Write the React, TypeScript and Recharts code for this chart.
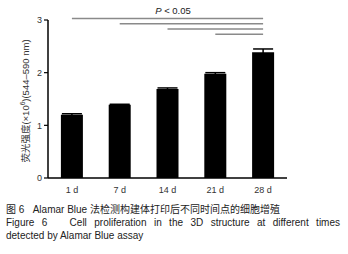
import { BarChart, Bar, XAxis, YAxis, ErrorBar, ReferenceLine, Label } from 'recharts';

const days = ['1 d', '7 d', '14 d', '21 d', '28 d'];
const intensity = [1.2, 1.39, 1.69, 1.98, 2.39];
const sem = [0.02, 0.01, 0.02, 0.02, 0.06];
const yTicks = [0, 1, 2, 3];

// significance brackets: each group compared against 28 d
const sigFrom = ['1 d', '7 d', '14 d', '21 d'];
const sigLevel = [3.03, 2.93, 2.83, 2.73];

const chartData = days.map((d, i) => ({ day: d, value: intensity[i], err: sem[i] }));

const font = '"Liberation Sans", Arial, "Noto Sans CJK SC", sans-serif';

const YLabel = ({ viewBox }: any) => {
  const cx = viewBox.x + 25;
  const cy = viewBox.y + viewBox.height / 2 + 2;
  return (
    <text
      x={cx}
      y={cy}
      transform={`rotate(-90, ${cx}, ${cy})`}
      textAnchor="middle"
      dominantBaseline="central"
      fontSize={9.5}
      fill="#333"
      fontFamily={font}
    >
      <tspan>荧光强度(×10</tspan>
      <tspan fontSize={6.5} dy={-3.5}>6</tspan>
      <tspan dy={3.5}>)(544–590 nm)</tspan>
    </text>
  );
};

export default function App() {
  return (
    <div style={{ position: 'absolute', left: 0, top: 0, width: 348, height: 254, background: '#fff', fontFamily: font }}>
      <div style={{ position: 'absolute', left: 133, top: 5, width: 80, textAlign: 'center', fontSize: 9.5, color: '#222' }}>
        <i>P</i> &lt; 0.05
      </div>
      <BarChart
        width={348}
        height={195}
        data={chartData}
        margin={{ top: 20, right: 61, left: 0, bottom: 0 }}
        barCategoryGap="27%"
      >
        <XAxis
          dataKey="day"
          height={17}
          tickLine={false}
          axisLine={{ stroke: '#000', strokeWidth: 1.5 }}
          tick={{ fill: '#333', fontSize: 9, fontFamily: font }}
          tickMargin={3}
        />
        <YAxis
          width={48}
          domain={[0, 3]}
          ticks={yTicks}
          axisLine={{ stroke: '#000', strokeWidth: 1.5 }}
          tickLine={{ stroke: '#000', strokeWidth: 1.2 }}
          tickSize={4}
          tick={{ fill: '#333', fontSize: 9, fontFamily: font }}
          allowDataOverflow
        >
          <Label content={<YLabel />} />
        </YAxis>
        {sigFrom.map((from, i) => (
          <ReferenceLine
            key={from}
            segment={[{ x: from, y: sigLevel[i] }, { x: '28 d', y: sigLevel[i] }]}
            stroke="#8a8a8a"
            strokeWidth={1.5}
            ifOverflow="visible"
          />
        ))}
        <Bar dataKey="value" fill="#000" isAnimationActive={false}>
          <ErrorBar dataKey="err" width={10} stroke="#000" strokeWidth={1.5} direction="y" />
        </Bar>
      </BarChart>
      <div style={{ position: 'absolute', left: 6, top: 203, width: 334, fontSize: 10, lineHeight: '13px', color: '#222' }}>
        <div>图 6&nbsp;&nbsp;&nbsp;Alamar Blue 法检测构建体打印后不同时间点的细胞增殖</div>
        <div style={{ textAlign: 'justify', textAlignLast: 'justify' }}>Figure 6&nbsp;&nbsp;&nbsp;Cell proliferation in the 3D structure at different times</div>
        <div>detected by Alamar Blue assay</div>
      </div>
    </div>
  );
}
